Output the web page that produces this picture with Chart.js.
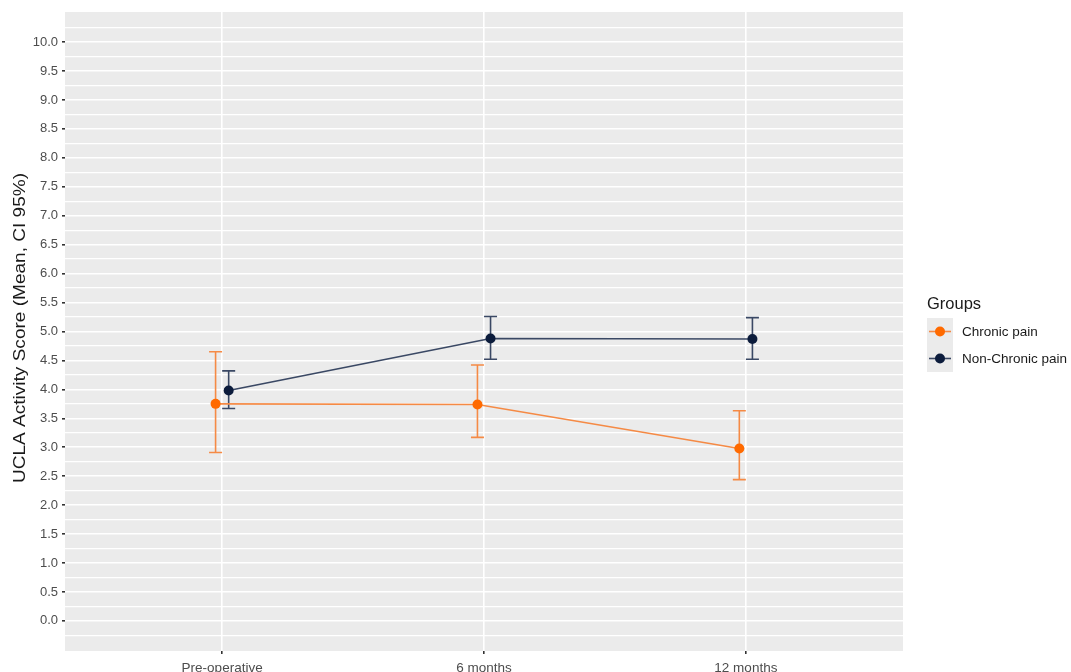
<!DOCTYPE html>
<html>
<head>
<meta charset="utf-8">
<script src="https://cdn.jsdelivr.net/npm/chart.js@4/dist/chart.umd.min.js"></script>
<style>
  html, body { margin: 0; padding: 0; background: #ffffff; }
  #wrap { width: 1071px; height: 672px; position: relative; }
</style>
</head>
<body>
<div id="wrap"><canvas id="c" width="1071" height="672"></canvas></div>
<script>
// Time points and group summaries (mean with 95% CI)
const categories = ['Pre-operative', '6 months', '12 months'];
const groupNames = ['Chronic pain', 'Non-Chronic pain'];

const chronicMean  = [3.75, 3.74, 2.98];
const chronicLower = [2.91, 3.17, 2.44];
const chronicUpper = [4.65, 4.42, 3.63];

const nonChronicMean  = [3.98, 4.88, 4.87];
const nonChronicLower = [3.67, 4.52, 4.52];
const nonChronicUpper = [4.32, 5.26, 5.24];

const yTickValues = [];
for (let v = -0.25; v <= 10.25 + 1e-9; v += 0.25) yTickValues.push(Math.round(v * 100) / 100);

const FONT = '"Liberation Sans", Arial, sans-serif';
const dodge = 0.025;
const orangePoint = '#FF6A00', orangeLine = '#F58A45';
const navyPoint = '#0C1C3C', navyLine = '#3A4864';

function series(means, lows, highs, offset) {
  return means.map((m, i) => ({ x: i + 1 + offset, y: m, lo: lows[i], hi: highs[i] }));
}

const isMajor = v => Math.abs(v * 2 - Math.round(v * 2)) < 1e-6;

const panelAndExtras = {
  id: 'panelAndExtras',
  beforeDraw(chart) {
    const { ctx, chartArea: a } = chart;
    ctx.save();
    ctx.fillStyle = '#EBEBEB';
    ctx.fillRect(a.left, a.top, a.right - a.left, a.bottom - a.top);
    ctx.restore();
  },
  beforeDatasetsDraw(chart) {
    // 95% CI error bars with caps
    const { ctx, scales } = chart;
    const xs = scales.x, ys = scales.y;
    ctx.save();
    chart.data.datasets.forEach(ds => {
      ctx.strokeStyle = ds.borderColor;
      ctx.lineWidth = 1.6;
      ds.data.forEach(p => {
        const px = xs.getPixelForValue(p.x);
        const top = ys.getPixelForValue(p.hi);
        const bot = ys.getPixelForValue(p.lo);
        const half = 6.5;
        ctx.beginPath();
        ctx.moveTo(px, top); ctx.lineTo(px, bot);
        ctx.moveTo(px - half, top); ctx.lineTo(px + half, top);
        ctx.moveTo(px - half, bot); ctx.lineTo(px + half, bot);
        ctx.stroke();
      });
    });
    ctx.restore();
  },
  afterDraw(chart) {
    const { ctx } = chart;
    // y axis title
    ctx.save();
    ctx.fillStyle = '#1A1A1A';
    ctx.font = '17px ' + FONT;
    ctx.textAlign = 'center';
    ctx.textBaseline = 'middle';
    const title = 'UCLA Activity Score (Mean, CI 95%)';
    const w = ctx.measureText(title).width;
    ctx.translate(20, 328);
    ctx.rotate(-Math.PI / 2);
    ctx.scale(310 / w, 1);
    ctx.fillText(title, 0, 0);
    ctx.restore();

    // legend
    ctx.save();
    ctx.fillStyle = '#1A1A1A';
    ctx.font = '16.5px ' + FONT;
    ctx.textAlign = 'left';
    ctx.textBaseline = 'middle';
    ctx.fillText('Groups', 927, 304);
    const keyX = 927, keyW = 26, keyTop = 318, keyH = 27;
    chart.data.datasets.forEach((ds, i) => {
      const cy = keyTop + i * keyH + keyH / 2;
      ctx.fillStyle = '#EBEBEB';
      ctx.fillRect(keyX, keyTop + i * keyH, keyW, keyH);
      ctx.strokeStyle = ds.borderColor;
      ctx.lineWidth = 1.6;
      ctx.beginPath();
      ctx.moveTo(keyX + 2, cy); ctx.lineTo(keyX + keyW - 2, cy);
      ctx.stroke();
      ctx.fillStyle = ds.pointBackgroundColor;
      ctx.beginPath();
      ctx.arc(keyX + keyW / 2, cy, 5, 0, Math.PI * 2);
      ctx.fill();
      ctx.fillStyle = '#1A1A1A';
      ctx.font = '13.5px ' + FONT;
      ctx.fillText(groupNames[i], 962, cy + 1);
    });
    ctx.restore();
  }
};

new Chart(document.getElementById('c'), {
  type: 'line',
  data: {
    datasets: [
      {
        label: groupNames[0],
        data: series(chronicMean, chronicLower, chronicUpper, -dodge),
        borderColor: orangeLine,
        borderWidth: 1.6,
        pointBackgroundColor: orangePoint,
        pointBorderColor: orangePoint,
        pointRadius: 5,
        pointBorderWidth: 0,
        tension: 0
      },
      {
        label: groupNames[1],
        data: series(nonChronicMean, nonChronicLower, nonChronicUpper, dodge),
        borderColor: navyLine,
        borderWidth: 1.6,
        pointBackgroundColor: navyPoint,
        pointBorderColor: navyPoint,
        pointRadius: 5,
        pointBorderWidth: 0,
        tension: 0
      }
    ]
  },
  options: {
    responsive: false,
    animation: false,
    devicePixelRatio: 1,
    layout: { padding: { left: 0, top: 12, right: 168, bottom: 0 } },
    plugins: { legend: { display: false }, tooltip: { enabled: false } },
    scales: {
      x: {
        type: 'linear',
        min: 0.4,
        max: 3.6,
        afterBuildTicks(scale) { scale.ticks = categories.map((c, i) => ({ value: i + 1 })); },
        afterFit(scale) { scale.height = 21; },
        ticks: {
          callback: v => categories[Math.round(v) - 1],
          color: '#4D4D4D',
          font: { family: FONT, size: 13.5 },
          padding: 6,
          maxRotation: 0,
          autoSkip: false
        },
        grid: { color: '#FFFFFF', lineWidth: 1.6, tickColor: '#333333', tickLength: 3 },
        border: { display: false }
      },
      y: {
        type: 'linear',
        min: -0.52,
        max: 10.52,
        afterBuildTicks(scale) { scale.ticks = yTickValues.map(v => ({ value: v })); },
        afterFit(scale) { scale.width = 65; },
        ticks: {
          callback: v => (isMajor(v) ? v.toFixed(1) : ''),
          color: '#4D4D4D',
          font: { family: FONT, size: 13 },
          padding: 4,
          autoSkip: false
        },
        grid: {
          color: '#FFFFFF',
          lineWidth: ctx => (isMajor(ctx.tick.value) ? 1.6 : 1.3),
          tickColor: ctx => (isMajor(ctx.tick.value) ? '#333333' : 'rgba(0,0,0,0)'),
          tickLength: 3
        },
        border: { display: false }
      }
    }
  },
  plugins: [panelAndExtras]
});
</script>
</body>
</html>
